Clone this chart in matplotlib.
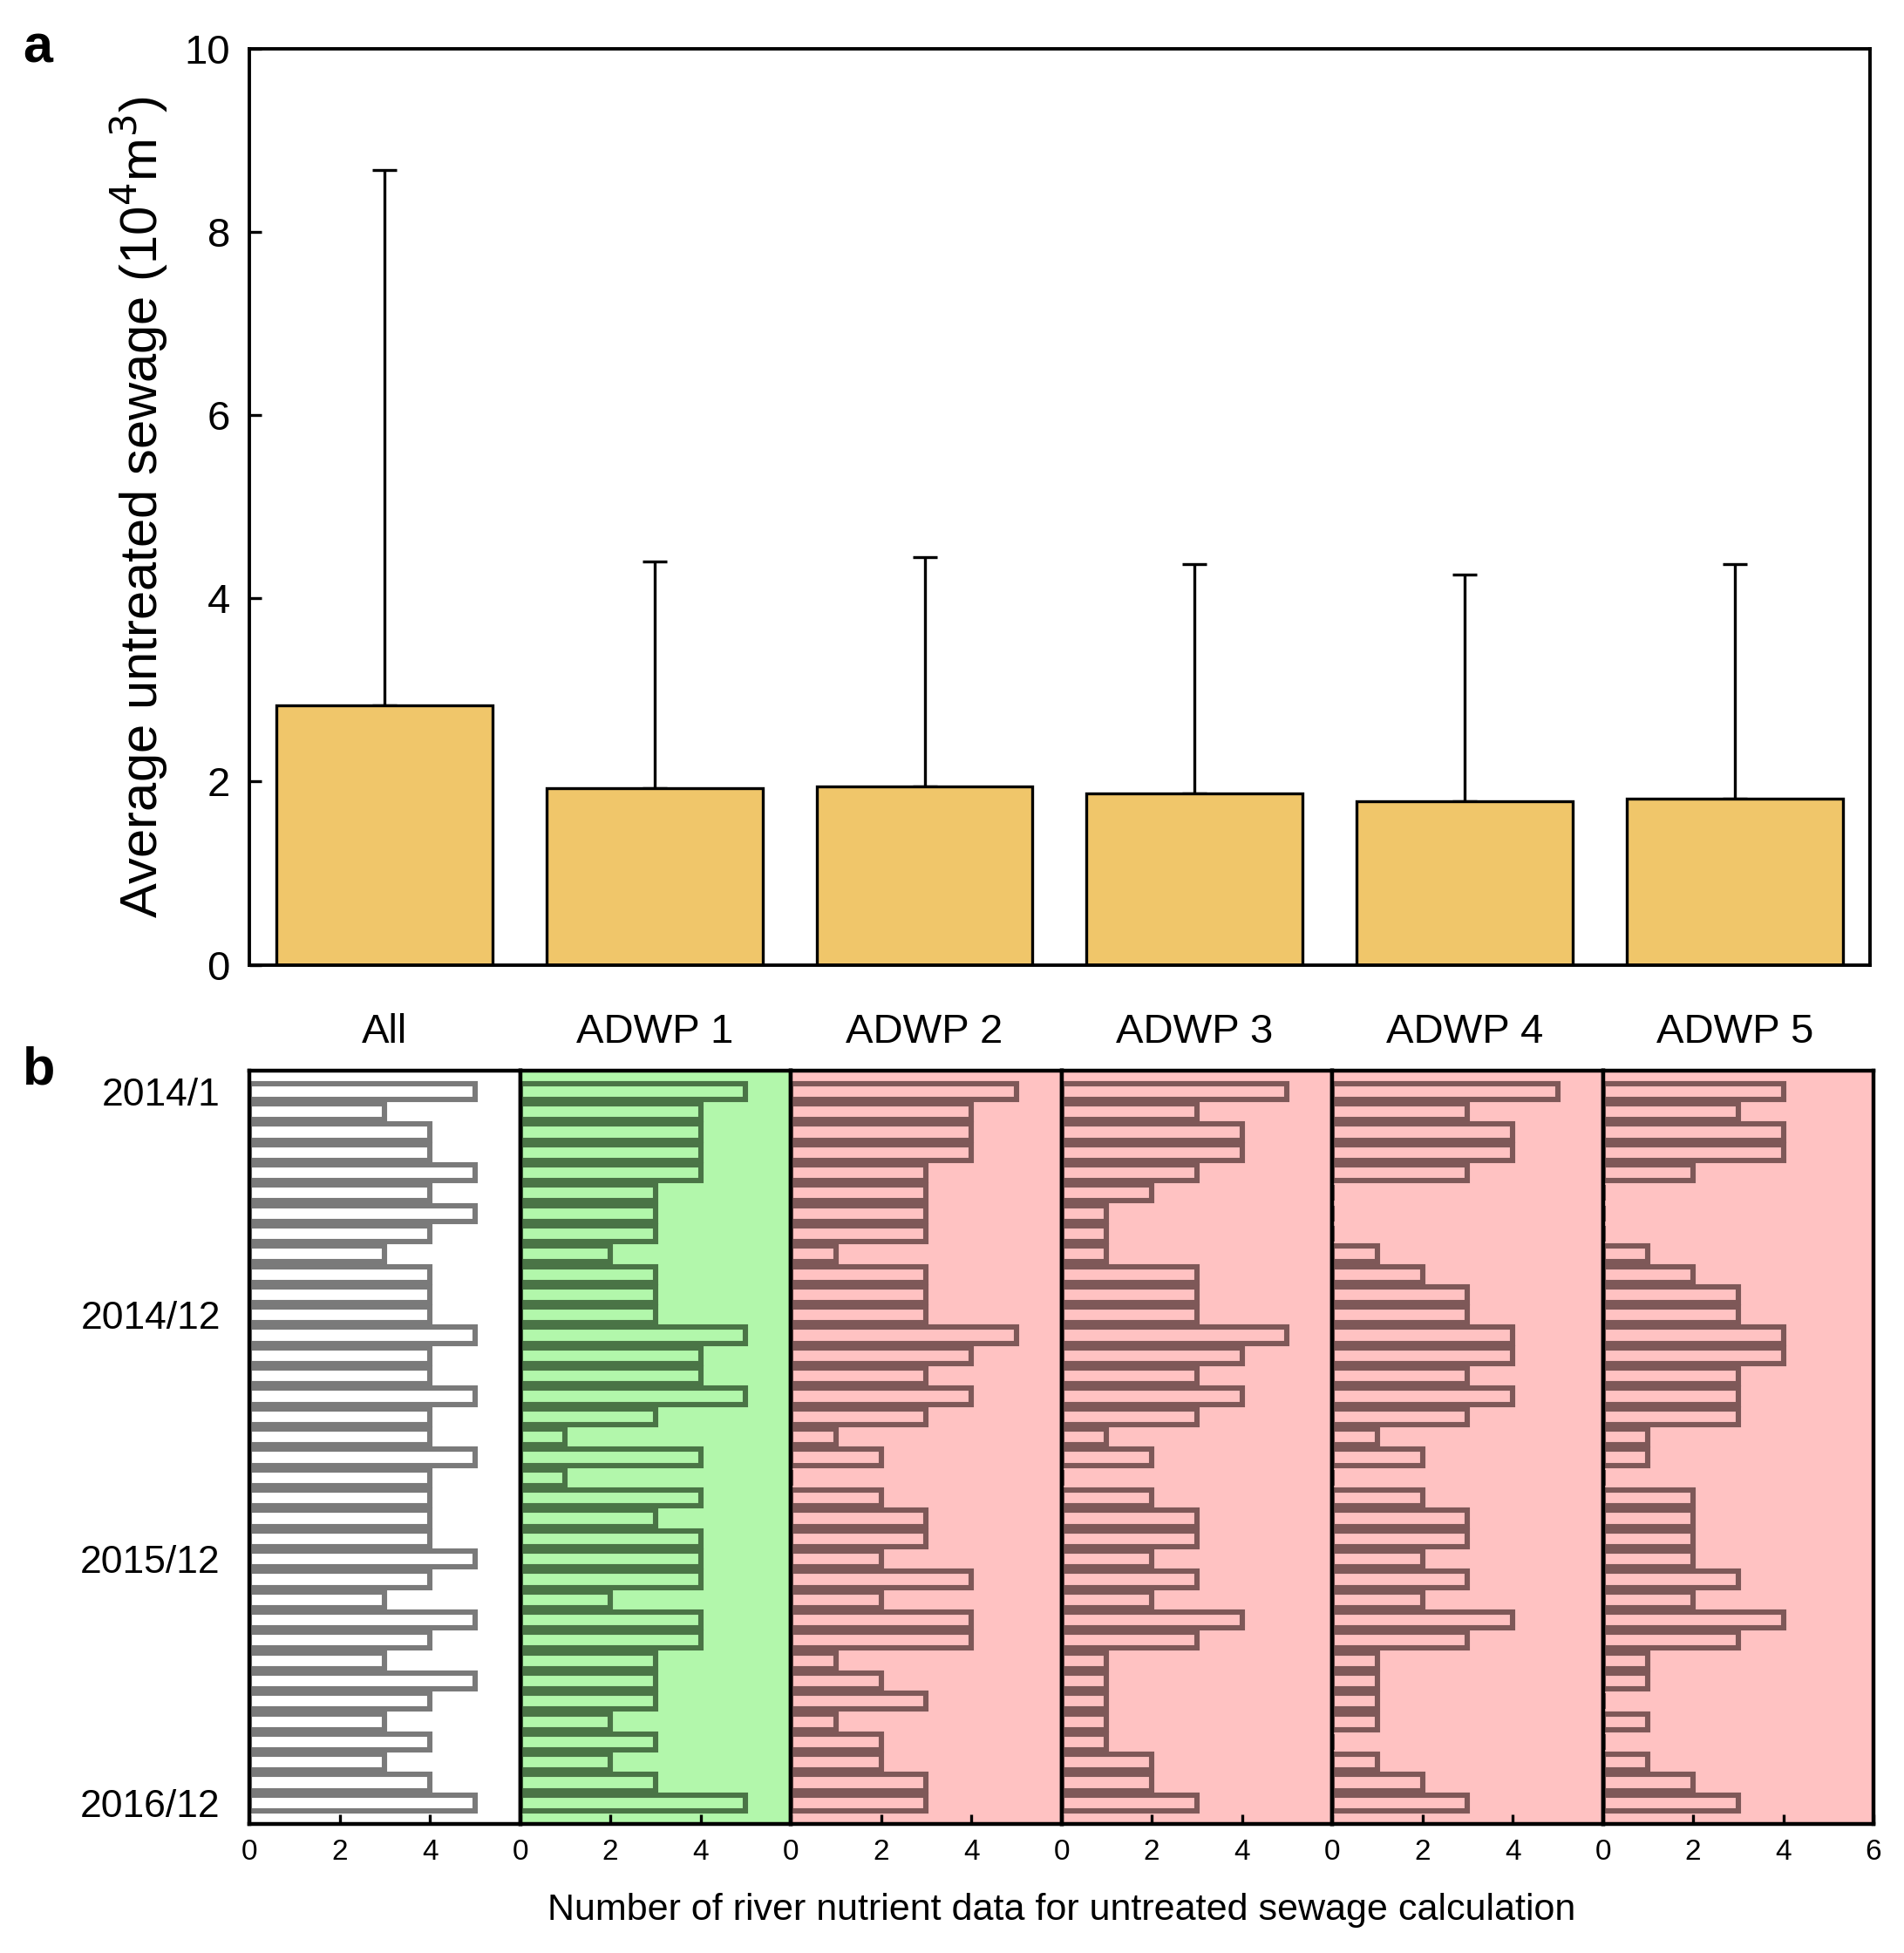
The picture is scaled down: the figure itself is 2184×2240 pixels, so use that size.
import matplotlib
matplotlib.use("Agg")
import matplotlib.pyplot as plt
import numpy as np

plt.rcParams['font.family'] = ['Liberation Sans', 'DejaVu Sans']

# panel a
groups = ["All", "ADWP 1", "ADWP 2", "ADWP 3", "ADWP 4", "ADWP 5"]
mean_sewage = [2.83, 1.93, 1.95, 1.87, 1.79, 1.81]
upper_sewage = [8.68, 4.40, 4.45, 4.37, 4.26, 4.37]

# panel b: monthly counts, 2014/1 .. 2016/12
months = [f"{y}/{m}" for y in (2014, 2015, 2016) for m in range(1, 13)]
month_labels = ["2014/1", "2014/12", "2015/12", "2016/12"]
count_all = [5, 3, 4, 4, 5, 4, 5, 4, 3, 4, 4, 4, 5, 4, 4, 5, 4, 4,
             5, 4, 4, 4, 4, 5, 4, 3, 5, 4, 3, 5, 4, 3, 4, 3, 4, 5]
count_adwp1 = [5, 4, 4, 4, 4, 3, 3, 3, 2, 3, 3, 3, 5, 4, 4, 5, 3, 1,
               4, 1, 4, 3, 4, 4, 4, 2, 4, 4, 3, 3, 3, 2, 3, 2, 3, 5]
count_adwp2 = [5, 4, 4, 4, 3, 3, 3, 3, 1, 3, 3, 3, 5, 4, 3, 4, 3, 1,
               2, 0, 2, 3, 3, 2, 4, 2, 4, 4, 1, 2, 3, 1, 2, 2, 3, 3]
count_adwp3 = [5, 3, 4, 4, 3, 2, 1, 1, 1, 3, 3, 3, 5, 4, 3, 4, 3, 1,
               2, 0, 2, 3, 3, 2, 3, 2, 4, 3, 1, 1, 1, 1, 1, 2, 2, 3]
count_adwp4 = [5, 3, 4, 4, 3, 0, 0, 0, 1, 2, 3, 3, 4, 4, 3, 4, 3, 1,
               2, 0, 2, 3, 3, 2, 3, 2, 4, 3, 1, 1, 1, 1, 0, 1, 2, 3]
count_adwp5 = [4, 3, 4, 4, 2, 0, 0, 0, 1, 2, 3, 3, 4, 4, 3, 3, 3, 1,
               1, 0, 2, 2, 2, 2, 3, 2, 4, 3, 1, 1, 0, 1, 0, 1, 2, 3]
counts = [count_all, count_adwp1, count_adwp2, count_adwp3, count_adwp4, count_adwp5]

panel_bg = ["white", "#b2f7ab", "#ffc2c2", "#ffc2c2", "#ffc2c2", "#ffc2c2"]
bar_edge = ["#7a7a7a", "#4a7446", "#7e5858", "#7e5858", "#7e5858", "#7e5858"]

fig = plt.figure(figsize=(10.92, 11.2), dpi=200)

# ---- panel a ----
left, right = 0.131, 0.982
ax = fig.add_axes([left, 0.506, right - left, 0.975 - 0.506])
x = np.arange(len(groups))
err_up = np.array(upper_sewage) - np.array(mean_sewage)
ax.bar(x, mean_sewage, width=0.8, color="#f0c66a", edgecolor="black", linewidth=1.2, zorder=2)
ax.errorbar(x, mean_sewage, yerr=[np.zeros(len(x)), err_up], fmt="none",
            ecolor="black", elinewidth=1.2, capsize=5, capthick=1.2, zorder=1)
ax.set_xlim(-0.5, 5.5)
ax.set_ylim(0, 10)
ax.set_yticks([0, 2, 4, 6, 8, 10])
ax.tick_params(axis="y", direction="in", length=5, width=1.2, labelsize=17, pad=8)
ax.set_xticks(x)
ax.set_xticklabels(groups, fontsize=17)
ax.tick_params(axis="x", length=0, pad=20)
ax.set_ylabel("Average untreated sewage (10$^4$m$^3$)", fontsize=21.5, labelpad=6)
for s in ax.spines.values():
    s.set_linewidth(1.4)
fig.text(0.012, 0.975, "a", fontsize=22, fontweight="bold", va="center")

# ---- panel b ----
b_right = 0.984
w = (b_right - left) / 6
rows = np.arange(len(months))
for i, cnt in enumerate(counts):
    bx = fig.add_axes([left + i * w, 0.066, w, 0.452 - 0.066])
    bx.set_facecolor(panel_bg[i])
    bx.barh(rows, cnt, height=0.78, color=panel_bg[i], edgecolor=bar_edge[i], linewidth=2.2)
    bx.set_xlim(0, 6)
    bx.set_ylim(36.04, -1.04)
    bx.set_xticks([0, 2, 4, 6] if i == 5 else [0, 2, 4])
    bx.tick_params(axis="x", direction="in", length=4, width=1.2, labelsize=12, pad=6)
    for s in bx.spines.values():
        s.set_linewidth(1.6)
    if i == 0:
        ticks = [months.index(m) for m in month_labels]
        bx.set_yticks(ticks)
        bx.set_yticklabels(month_labels, fontsize=16)
        bx.tick_params(axis="y", length=0, pad=12)
    else:
        bx.set_yticks([])

fig.text((left + b_right) / 2, 0.022, "Number of river nutrient data for untreated sewage calculation",
         fontsize=15.5, ha="center", va="center")
fig.text(0.012, 0.452, "b", fontsize=22, fontweight="bold", va="center")

fig.savefig("out.png", dpi=200)
